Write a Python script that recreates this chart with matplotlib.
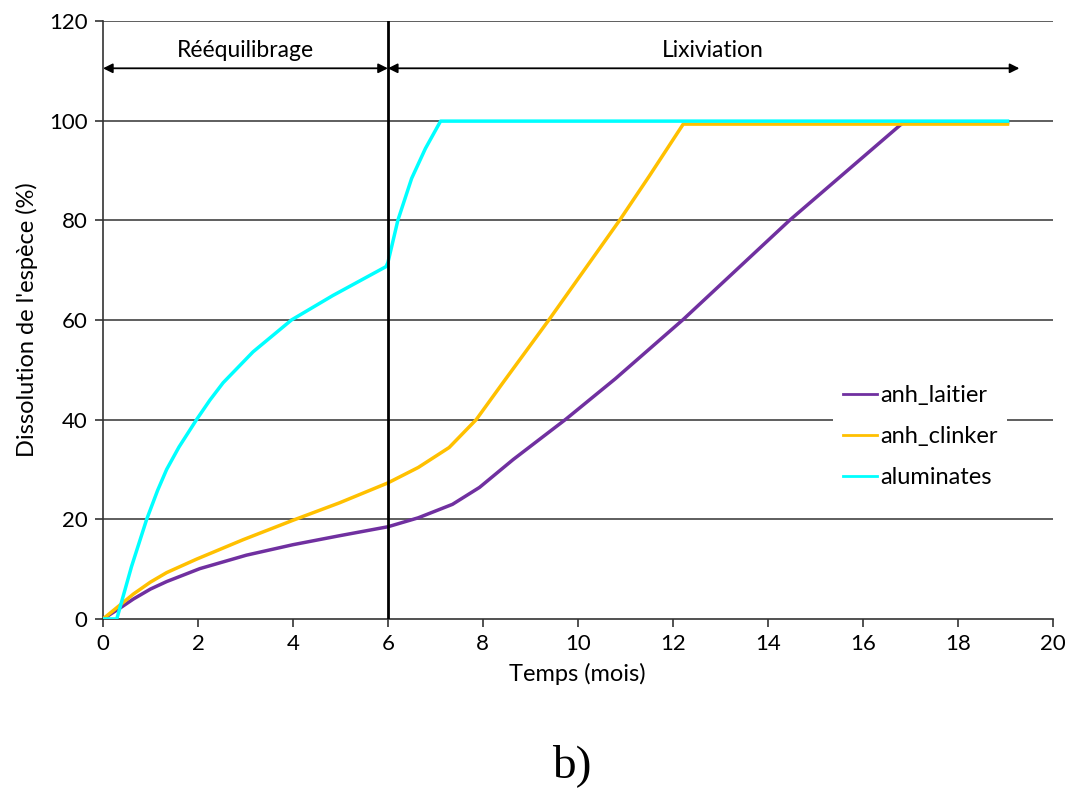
import numpy as np
import matplotlib
matplotlib.use("agg")
import matplotlib.pyplot as plt

plt.rcParams['font.family'] = ['Lato', 'DejaVu Sans']

# anh_laitier
laitier_t = [0, 0.36, 0.64, 1.0, 1.34, 2.04, 3.02, 4.0, 4.98, 6.0, 6.64, 7.36, 7.93, 8.64, 9.75, 10.79, 12.22, 14.46, 16.85, 19.05]
laitier_y = [0, 2.2, 4.0, 6.0, 7.5, 10.1, 12.8, 14.9, 16.7, 18.5, 20.3, 23.0, 26.4, 32.0, 40.1, 48.2, 60.1, 80.0, 99.6, 99.6]
# anh_clinker
clinker_t = [0, 0.64, 1.0, 1.34, 1.97, 2.95, 4.0, 4.98, 6.0, 6.64, 7.29, 7.86, 8.43, 9.39, 10.15, 10.88, 11.5, 12.22, 19.05]
clinker_y = [0, 5.0, 7.4, 9.3, 12.0, 15.9, 19.8, 23.3, 27.3, 30.4, 34.4, 40.0, 47.5, 60.0, 70.2, 80.0, 88.8, 99.3, 99.3]
# aluminates
alu_t = [0, 0.29, 0.6, 0.92, 1.15, 1.34, 1.6, 1.97, 2.25, 2.53, 3.16, 3.97, 4.84, 5.96, 6.0, 6.21, 6.5, 6.79, 7.11, 19.05]
alu_y = [0, 0, 10.5, 20.0, 25.8, 30.0, 34.5, 40.0, 43.9, 47.4, 53.6, 60.0, 64.9, 70.7, 71.5, 80.0, 88.4, 94.4, 99.9, 99.9]

xticks = [0, 2, 4, 6, 8, 10, 12, 14, 16, 18, 20]
yticks = [0, 20, 40, 60, 80, 100, 120]

fig = plt.figure(figsize=(10.73, 7.91), dpi=100)
ax = fig.add_axes([0.096, 0.2175, 0.885, 0.756])

for y in yticks[1:]:
    ax.axhline(y, color='#333333', lw=1.1, zorder=1)

ax.plot(laitier_t, laitier_y, color='#7030a0', lw=2.5, label='anh_laitier', zorder=3)
ax.plot(clinker_t, clinker_y, color='#ffc000', lw=2.5, label='anh_clinker', zorder=4)
ax.plot(alu_t, alu_y, color='#00ffff', lw=2.5, label='aluminates', zorder=5)

ax.axvline(6, color='black', lw=2, zorder=6)

ap = dict(arrowstyle='<|-|>', color='black', lw=1.3, mutation_scale=14, shrinkA=0, shrinkB=0)
ax.annotate('', xy=(0, 110.5), xytext=(6, 110.5), arrowprops=ap)
ax.annotate('', xy=(6, 110.5), xytext=(19.3, 110.5), arrowprops=ap)
ax.text(3, 114, 'Rééquilibrage', ha='center', va='center', fontsize=16.5)
ax.text(12.85, 114, 'Lixiviation', ha='center', va='center', fontsize=16.5)

ax.set_xlim(0, 20)
ax.set_ylim(0, 120)
ax.set_xticks(xticks)
ax.set_yticks(yticks)
ax.tick_params(labelsize=16, length=6, width=1.2, color='#333333', pad=5)
for s in ['top', 'right']:
    ax.spines[s].set_visible(False)
for s in ['left', 'bottom']:
    ax.spines[s].set_color('#333333')
    ax.spines[s].set_linewidth(1.2)

ax.set_xlabel('Temps (mois)', fontsize=17, labelpad=6)
ax.set_ylabel("Dissolution de l'espèce (%)", fontsize=17, labelpad=8)

leg = ax.legend(loc='upper left', bbox_to_anchor=(0.769, 0.407), frameon=True, fontsize=17,
                handlelength=1.45, handletextpad=0.15, labelspacing=0.85, borderpad=0.4,
                borderaxespad=0)
leg.get_frame().set_edgecolor('none')
leg.get_frame().set_facecolor('white')
leg.get_frame().set_alpha(1)
leg.set_zorder(7)
for h in leg.get_lines():
    h.set_linewidth(2)

fig.text(0.533, 0.018, 'b)', ha='center', va='baseline', fontsize=34, family='Liberation Serif')

plt.savefig('out.png')
plt.close()
